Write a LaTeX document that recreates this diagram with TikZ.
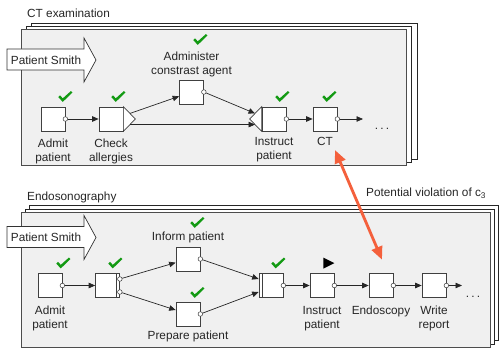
\documentclass[tikz,border=0pt]{standalone}
\usepackage{fontspec}
\setmainfont{Liberation Sans}
\usetikzlibrary{arrows.meta,positioning,calc}
\definecolor{frm}{HTML}{F0F0F0}
\definecolor{okg}{HTML}{139A13}
\definecolor{viol}{HTML}{F4603C}
\definecolor{txt}{HTML}{262626}
\tikzset{
  every node/.style={font=\fontsize{11.8}{14}\selectfont, text=txt},
  act/.style={draw=black!75, fill=white, line width=0.7pt, minimum size=24pt, inner sep=0pt},
  port/.style={circle, draw=black!80, fill=white, line width=0.5pt, inner sep=0pt, minimum size=4.6pt},
  lbl/.style={align=center, inner sep=0pt},
  flow/.style={-{Triangle[length=6.5pt,width=5.5pt]}, line width=0.7pt, black!85},
  gate/.style={draw=black!75, fill=white, line width=0.7pt},
  backframe/.style={draw=black!85, fill=white, line width=0.8pt},
  frontframe/.style={draw=black!70, fill=frm, line width=1pt},
  confl/.style={{Triangle[length=13pt,width=11pt]}-{Triangle[length=13pt,width=11pt]}, line width=2.8pt, viol},
  done/.pic={\fill[okg, scale=1.12] (-6,0.4) -- (-4.4,-1.1) -- (-2,1.5) -- (5.3,-5) -- (6.6,-3.6) -- (-2,4.7) -- cycle;},
  casetag/.pic={
    \draw[black!80, fill=white, line width=0.7pt]
      (-89,-11) -- (-12,-11) -- (-12,-22) -- (0,0) -- (-12,22) -- (-12,10) -- (-89,10) -- cycle;
    \node (-txt) at (-50,0) {Patient Smith};},
}

\begin{document}
\begin{tikzpicture}[x=1pt,y=-1pt]
\useasboundingbox (0,0) rectangle (499,350);

% ============ CT examination ===============
\node[anchor=base west, inner sep=0pt] (cttitle) at (27,17.5) {CT examination};
\draw[backframe] (31,23) rectangle (417,159);
\draw[backframe] (26,26.5) rectangle (411.5,162.5);
\draw[frontframe] (21,30) rectangle (406,166);
\pic (ctcase) at (96,60) {casetag};

\node[act] (adm1) at (53,119) {};
\node[act] (chk1) at (111,119) {};
\node[act] (cont) at (191.5,92) {};
\node[act] (ins1) at (274,119) {};
\node[act] (ct) at (325,119) {};
% split after the check, join before the instruction
\coordinate (st) at ($(chk1.east)+(12,0)$);
\draw[gate] (chk1.north east) -- (st) -- (chk1.south east) -- cycle;
\coordinate (jt) at ($(ins1.west)+(-12,0)$);
\draw[gate] (ins1.north west) -- (jt) -- (ins1.south west) -- cycle;
\coordinate (sA) at ($(chk1.north east)!0.55!(st)$);
\coordinate (sB) at ($(chk1.south east)!0.55!(st)$);
\coordinate (jA) at ($(ins1.north west)!0.55!(jt)$);
\coordinate (jB) at ($(ins1.south west)!0.55!(jt)$);
\foreach \b in {adm1,cont,ins1,ct} \node[port] (\b p) at (\b.east) {};

\node[lbl, below=7pt of adm1] (adm1lbl) {Admit\\patient};
\node[lbl, below=7pt of chk1] (chk1lbl) {Check\\allergies};
\node[lbl, above=2.5pt of cont] (contlbl) {Administer\\constrast agent};
\node[lbl, below=6pt of ins1] (ins1lbl) {Instruct\\patient};
\node[lbl, below=6pt of ct] (ctlbl) {CT};
\node[anchor=base, inner sep=0pt] (ctdots) at (382,130) {.\kern2.2pt.\kern2.2pt.};
\coordinate (ctend) at (363,119);

\draw[flow] (adm1p) -- (chk1);
\draw[flow] (sA) -- (cont);
\draw[flow] (sB) -- (jB);
\draw[flow] (contp) -- (jA);
\draw[flow] (ins1p) -- (ct);
\draw[flow] (ctp) -- (ctend);

\pic at ($(adm1.north)+(12,-10)$) {done};
\pic at ($(chk1.north)+(7,-10)$) {done};
\pic at ($(cont.north)+(8.5,-40)$) {done};
\pic at ($(ins1.north)+(8,-10)$) {done};
\pic at ($(ct.north)+(4,-10)$) {done};

% ============ Endosonography ===============
\node[anchor=base west, inner sep=0pt] (endotitle) at (27,201) {Endosonography};
\draw[backframe] (29,205.5) rectangle (498,340);
\draw[backframe] (25,209) rectangle (494,344);
\draw[frontframe] (21,212.5) rectangle (490,348);
\pic (endocase) at (96,237.5) {casetag};

\node[act] (adm2) at (50,285.5) {};
\node[act] (chk2) at (107.5,285.5) {};
\node[act] (inf) at (188,259) {};
\node[act] (prep) at (188,314) {};
\node[act] (jn) at (271,285.5) {};
\node[act] (ins2) at (322,285.5) {};
\node[act] (endo) at (381,285.5) {};
\node[act] (rep) at (434,285.5) {};
% parallel split and join bars
\draw[black!75, line width=0.7pt] ($(chk2.north east)+(-4,0)$) -- ($(chk2.south east)+(-4,0)$);
\draw[black!75, line width=0.7pt] ($(jn.north west)+(4,0)$) -- ($(jn.south west)+(4,0)$);
\node[port] (s2a) at ($(chk2.east)+(0,-6.5)$) {};
\node[port] (s2b) at ($(chk2.east)+(0,6.5)$) {};
\coordinate (j2a) at ($(jn.west)+(0,-6.5)$);
\coordinate (j2b) at ($(jn.west)+(0,6.5)$);
\foreach \b in {adm2,inf,prep,jn,ins2,endo,rep} \node[port] (\b p) at (\b.east) {};

\node[lbl, below=8pt of adm2] (adm2lbl) {Admit\\patient};
\node[lbl, above=3.5pt of inf] (inflbl) {Inform patient};
\node[lbl, below=4.5pt of prep] (preplbl) {Prepare patient};
\node[lbl, below=8pt of ins2] (ins2lbl) {Instruct\\patient};
\node[lbl, below=8pt of endo] (endolbl) {Endoscopy};
\node[lbl, below=8pt of rep] (replbl) {Write\\report};
\node[anchor=base, inner sep=0pt] (endodots) at (473,298) {.\kern2.2pt.\kern2.2pt.};
\coordinate (repend) at (462,285.5);

\draw[flow] (adm2p) -- (chk2);
\draw[flow] (s2a) -- (inf);
\draw[flow] (s2b) -- (prep);
\draw[flow] (infp) -- (j2a);
\draw[flow] (prepp) -- (j2b);
\draw[flow] (jnp) -- (ins2);
\draw[flow] (ins2p) -- (endo);
\draw[flow] (endop) -- (rep);
\draw[flow] (repp) -- (repend);

\pic at ($(adm2.north)+(13,-10)$) {done};
\pic at ($(chk2.north)+(7.5,-10)$) {done};
\pic at ($(inf.north)+(9,-24)$) {done};
\pic at ($(prep.north)+(9,-9)$) {done};
\pic at ($(jn.north)+(7,-10)$) {done};
% running activity marker
\fill[black] ($(ins2.north east)+(-11,-15.5)$) -- ++(11,5.5) -- ++(-11,5.5) -- cycle;

% ============ conflict between the two cases ===============
\coordinate (vA) at ($(ctlbl.south east)+(2,4)$);
\coordinate (vB) at ($(endo.north)+(1,-13.5)$);
\draw[confl] (vA) -- (vB);
\node[anchor=base west, inner sep=0pt] (violbl) at (366,197) {Potential violation of c\textsubscript{3}};

\end{tikzpicture}
\end{document}
